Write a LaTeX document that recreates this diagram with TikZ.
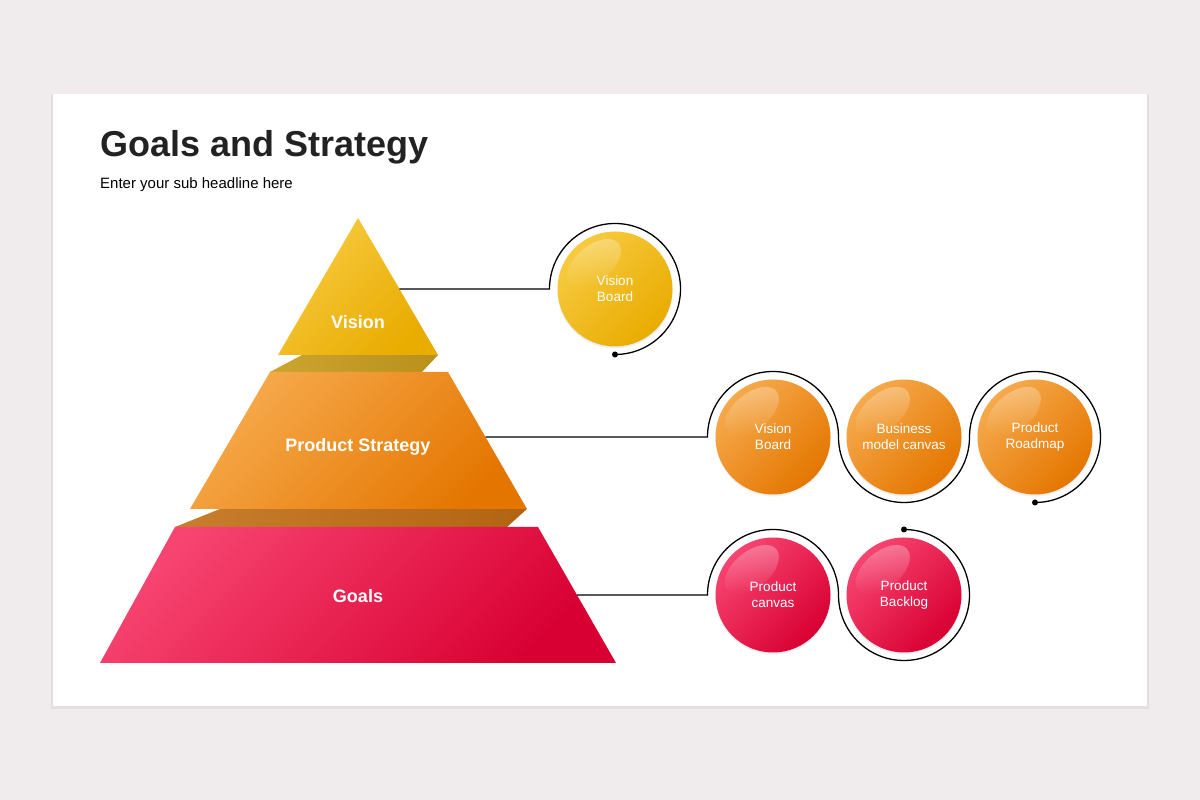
\documentclass[tikz,border=0pt]{standalone}
\usepackage{fontspec}
\setmainfont{Liberation Sans}
\usetikzlibrary{calc,fadings,shadows}

\definecolor{pagegray}{RGB}{240,236,237}
\definecolor{titleblack}{RGB}{34,34,34}
\definecolor{visionlight}{RGB}{247,202,64}
\definecolor{visiondark}{RGB}{233,172,0}
\definecolor{visionband}{RGB}{204,164,48}
\definecolor{visionbanddark}{RGB}{186,144,28}
\definecolor{strategylight}{RGB}{246,170,76}
\definecolor{strategydark}{RGB}{228,118,0}
\definecolor{strategyband}{RGB}{200,126,46}
\definecolor{strategybanddark}{RGB}{178,100,18}
\definecolor{goalslight}{RGB}{247,68,112}
\definecolor{goalsdark}{RGB}{216,0,50}

\tikzset{
  bubble/.style={circle, minimum size=115pt, inner sep=0pt, outer sep=8pt,
    top color=#1light, bottom color=#1dark, shading angle=45,
    text=white, align=center, font=\bubblefontsize,
    drop shadow={opacity=0.12, shadow xshift=0pt, shadow yshift=-2pt}},
  link/.style={line width=1.3pt, black},
  gloss/.style={white, fill opacity=0.3, path fading=south},
  layerlabel/.style={text=white, font=\layerfontsize\bfseries},
}

\begin{document}
\begin{tikzpicture}[x=1pt,y=1pt]
    \pgfmathsetmacro{\looprad}{65.5}
    \providecommand{\titlefontsize}{\fontsize{36pt}{40pt}\selectfont}
    \providecommand{\subfontsize}{\fontsize{15pt}{18pt}\selectfont}
    \providecommand{\layerfontsize}{\fontsize{18pt}{22pt}\selectfont}
    \providecommand{\bubblefontsize}{\fontsize{13.5pt}{16pt}\selectfont}
    \useasboundingbox (0,0) rectangle (1200,800);
    \fill[pagegray] (0,0) rectangle (1200,800);
    \fill[black,opacity=0.05] (51,91) rectangle (1149,706);
    \fill[white] (53,94) rectangle (1147,706);
    \node[anchor=base west,inner sep=0,text=titleblack,font=\titlefontsize\bfseries] (title) at (100,643) {Goals and Strategy};
    \node[anchor=base west,inner sep=0,text=black,font=\subfontsize] (sub) at (100,611) {Enter your sub headline here};
    % pyramid
    \coordinate (vis-top) at (358,582);
    \coordinate (vis-bl) at (278,445);
    \coordinate (vis-br) at (438,445);
    \coordinate (ps-tl) at (270,428);
    \coordinate (ps-tr) at (448,428);
    \coordinate (ps-bl) at (190,291);
    \coordinate (ps-br) at (527,291);
    \coordinate (gl-tl) at (175,273);
    \coordinate (gl-tr) at (538,273);
    \coordinate (gl-bl) at (100,137);
    \coordinate (gl-br) at (616,137);
    \shade[left color=visionband,right color=visionbanddark] (302,445) -- (vis-br) -- (422,428) -- (ps-tl) -- cycle;
    \shade[left color=strategyband,right color=strategybanddark] (220,291) -- (ps-br) -- (507,273) -- (gl-tl) -- cycle;
    \shade[top color=visionlight,bottom color=visiondark,shading angle=45] (vis-top) -- (vis-br) -- (vis-bl) -- cycle;
    \shade[top color=strategylight,bottom color=strategydark,shading angle=45] (ps-tl) -- (ps-tr) -- (ps-br) -- (ps-bl) -- cycle;
    \shade[top color=goalslight,bottom color=goalsdark,shading angle=45] (gl-tl) -- (gl-tr) -- (gl-br) -- (gl-bl) -- cycle;
    \node[layerlabel] (vis) at (358,478) {Vision};
    \node[layerlabel] (ps) at (358,353) {Product Strategy};
    \node[layerlabel] (gl) at (358,204) {Goals};
    % bubbles
    \node[bubble=vision] (vb) at (615,511) {Vision\\Board};
    \node[bubble=strategy] (sb1) at (773,363) {Vision\\Board};
    \node[bubble=strategy] (sb2) at (904,363) {Business\\model canvas};
    \node[bubble=strategy] (sb3) at (1035,363) {Product\\Roadmap};
    \node[bubble=goals] (gb1) at (773,205) {Product\\canvas};
    \node[bubble=goals] (gb2) at (904,205) {Product\\Backlog};
    \foreach \n in {vb,sb1,sb2,sb3,gb1,gb2}{
        \begin{scope}[shift={(\n.center)},rotate=40]
            \fill[gloss] (0,33) ellipse[x radius=32pt,y radius=18pt];
        \end{scope}
    }
    % connectors
    \coordinate (vis-out) at (intersection of vis-top--vis-br and vb.west--vb.east);
    \coordinate (ps-out) at (intersection of ps-tr--ps-br and sb1.west--sb1.east);
    \coordinate (gl-out) at (intersection of gl-tr--gl-br and gb1.west--gb1.east);
    \draw[link] (vis-out) -- (vb.west) arc[start angle=180,end angle=-90,radius=\looprad pt];
    \draw[link] (ps-out) -- (sb1.west) arc[start angle=180,end angle=0,radius=\looprad pt]
        arc[start angle=180,end angle=360,radius=\looprad pt]
        arc[start angle=180,end angle=-90,radius=\looprad pt];
    \draw[link] (gl-out) -- (gb1.west) arc[start angle=180,end angle=0,radius=\looprad pt]
        arc[start angle=180,end angle=450,radius=\looprad pt];
    \fill (vb.south) circle[radius=3pt];
    \fill (sb3.south) circle[radius=3pt];
    \fill (gb2.north) circle[radius=3pt];
\end{tikzpicture}
\end{document}
